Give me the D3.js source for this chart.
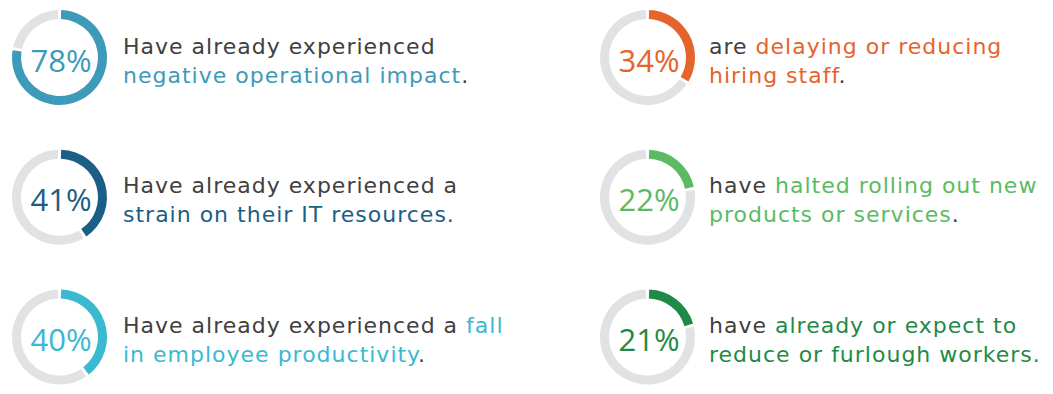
<!DOCTYPE html>
<meta charset="utf-8">
<style>
body { margin: 0; background: #fff; }
text { font-family: "Open Sans", sans-serif; }
text.caption { font-family: "DejaVu Sans", sans-serif; }
</style>
<body>
<svg id="chart"></svg>
</body>
<script src="https://d3js.org/d3.v7.min.js"></script>
<script>

var w = 1053,
    h = 394;

// survey shares, in percent
var values = [78, 41, 40, 34, 22, 21];
var colors = ["#3d9ab8", "#1b5e86", "#3ab9d0", "#e4642c", "#5bbb63", "#1f8a48"];
// each line is a list of [text, highlighted]
var captions = [
  [[["Have already experienced", 0]], [["negative operational impact", 1], [".", 0]]],
  [[["Have already experienced a", 0]], [["strain on their IT resources.", 1]]],
  [[["Have already experienced a ", 0], ["fall", 1]], [["in employee productivity", 1], [".", 0]]],
  [[["are ", 0], ["delaying or reducing", 1]], [["hiring staff", 1], [".", 0]]],
  [[["have ", 0], ["halted rolling out new", 1]], [["products or services", 1], [".", 0]]],
  [[["have ", 0], ["already or expect to", 1]], [["reduce or furlough workers.", 1]]]
];

var outer = 47.5,
    inner = 38.5,
    gap = 0.035,
    ink = "#404040",
    track = "#e0e2e4";

var svg = d3.select("#chart")
    .attr("width", w)
    .attr("height", h);

var col = d3.scalePoint().domain([0, 1]).range([59.5, 647.5]);
var textCol = d3.scalePoint().domain([0, 1]).range([123, 709]);
var row = d3.scalePoint().domain([0, 1, 2]).range([57.5, 337]);
var angle = d3.scaleLinear().domain([0, 100]).range([0, 2 * Math.PI]);

var arc = d3.arc().innerRadius(inner).outerRadius(outer);

var g = svg.selectAll("g.item")
    .data(values)
  .enter().append("g")
    .attr("class", "item")
    .attr("transform", function(d, i) {
      return "translate(" + col(Math.floor(i / 3)) + "," + row(i % 3) + ")";
    });

g.append("path")
    .attr("fill", track)
    .attr("d", function(d) {
      return arc({startAngle: angle(d) + gap, endAngle: 2 * Math.PI - gap});
    });

g.append("path")
    .attr("fill", function(d, i) { return colors[i]; })
    .attr("d", function(d) {
      return arc({startAngle: gap, endAngle: angle(d) - gap});
    });

g.append("text")
    .attr("x", 1.5)
    .attr("y", 14)
    .attr("text-anchor", "middle")
    .style("font-size", "31px")
    .style("fill", function(d, i) { return colors[i]; })
    .text(function(d) { return d + "%"; });

g.each(function(d, i) {
  var c = Math.floor(i / 3),
      x = textCol(c) - col(c);
  var t = d3.select(this).append("text")
      .attr("class", "caption")
      .attr("x", x)
      .style("font-size", "22px")
      .style("letter-spacing", "1px");
  captions[i].forEach(function(line, j) {
    line.forEach(function(seg, k) {
      var s = t.append("tspan")
          .style("fill", seg[1] ? colors[i] : ink)
          .text(seg[0]);
      if (k === 0) s.attr("x", x).attr("y", j === 0 ? -4 : 25);
    });
  });
});

</script>
